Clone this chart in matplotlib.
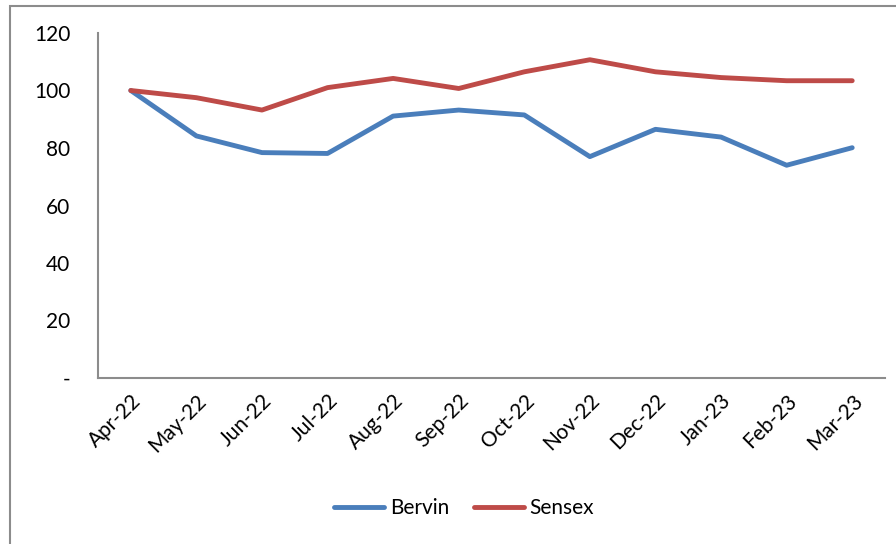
import matplotlib.pyplot as plt
from matplotlib.patches import Rectangle

months = ['Apr-22', 'May-22', 'Jun-22', 'Jul-22', 'Aug-22', 'Sep-22',
          'Oct-22', 'Nov-22', 'Dec-22', 'Jan-23', 'Feb-23', 'Mar-23']
bervin = [100, 84.2, 78.4, 78.1, 91.1, 93.2, 91.5, 77.0, 86.5, 83.8, 74.0, 80.1]
sensex = [100, 97.5, 93.2, 101.0, 104.2, 100.7, 106.5, 110.7, 106.5, 104.5, 103.4, 103.4]
yticks = [0, 20, 40, 60, 80, 100, 120]
ytick_labels = ['-', '20', '40', '60', '80', '100', '120']

plt.rcParams['font.family'] = ['Lato', 'DejaVu Sans']

fig = plt.figure(figsize=(8.96, 5.44), dpi=100)
ax = fig.add_axes([98 / 896, 1 - 378 / 544, 787 / 896, 345 / 544])

# outer chart frame (runs off the right and bottom edges)
fig.patches.append(Rectangle((10 / 896, -0.05), 1.1, 1 - 6 / 544 + 0.05,
                             transform=fig.transFigure, fill=False,
                             edgecolor='#8c8c8c', linewidth=1.5))

x = range(len(months))
ax.plot(x, bervin, color='#4a7ebb', linewidth=3.5, label='Bervin', solid_capstyle='round')
ax.plot(x, sensex, color='#be4b48', linewidth=3.5, label='Sensex', solid_capstyle='round')

ax.set_xlim(-0.5, len(months) - 0.5)
ax.set_ylim(0, 120)
ax.set_yticks(yticks)
ax.set_yticklabels(ytick_labels, fontsize=15)
ax.set_xticks(list(x))
ax.set_xticklabels(months, rotation=45, ha='right', rotation_mode='anchor', fontsize=15)
ax.tick_params(axis='both', length=0)
ax.tick_params(axis='y', pad=20)
ax.tick_params(axis='x', pad=9)

for side in ['top', 'right']:
    ax.spines[side].set_visible(False)
for side in ['left', 'bottom']:
    ax.spines[side].set_color('#8c8c8c')
    ax.spines[side].set_linewidth(1.5)

fig.legend(loc='center', bbox_to_anchor=(464 / 896, 1 - 508 / 544), ncol=2,
           frameon=False, fontsize=15, handlelength=2.4, handletextpad=0.25,
           columnspacing=1.2)

fig.savefig('out.png', dpi=100)
